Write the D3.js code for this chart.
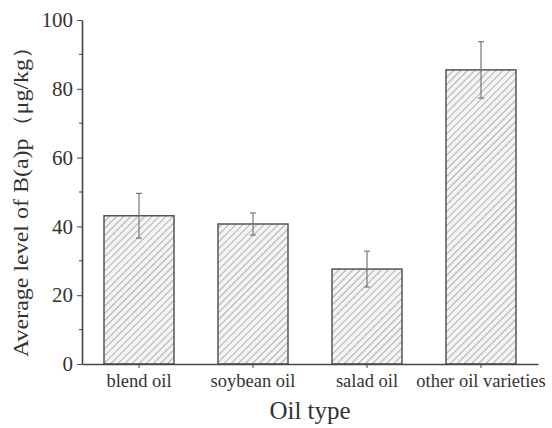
<!DOCTYPE html>
<html>
<head>
<meta charset="utf-8">
<script src="https://cdn.jsdelivr.net/npm/d3@7/dist/d3.min.js"></script>
<style>
  body { margin: 0; background: #fff; }
</style>
</head>
<body>
<svg id="chart" width="552" height="428"></svg>
<script>
// data
var oils = ["blend oil", "soybean oil", "salad oil", "other oil varieties"];
var levels = [43.1, 40.7, 27.6, 85.5];
var errs = [6.5, 3.2, 5.2, 8.2];
var yTicks = [0, 20, 40, 60, 80, 100];
var yMinor = [10, 30, 50, 70, 90];

var serif = "'Liberation Serif', 'Times New Roman', Times, serif";
var svg = d3.select("#chart");
var pLeft = 82, pRight = 538, pTop = 20, pBottom = 364;

var x = d3.scaleBand().domain(oils).range([pLeft, pRight]).paddingInner(0.386).paddingOuter(0.193);
var y = d3.scaleLinear().domain([0, 100]).range([pBottom, pTop]);

// hatch pattern
var defs = svg.append("defs");
var pat = defs.append("pattern")
	.attr("id", "hatch")
	.attr("patternUnits", "userSpaceOnUse")
	.attr("width", 5)
	.attr("height", 5)
	.attr("patternTransform", "rotate(45)");
pat.append("rect").attr("width", 5).attr("height", 5).attr("fill", "#f4f4f4");
pat.append("line")
	.attr("x1", 0).attr("y1", 0).attr("x2", 0).attr("y2", 5)
	.attr("stroke", "#8a8a8a").attr("stroke-width", 1.3);

// bars
svg.selectAll(".bar").data(oils).enter().append("rect")
	.attr("class", "bar")
	.attr("x", function(d){ return x(d); })
	.attr("y", function(d, i){ return y(levels[i]); })
	.attr("width", x.bandwidth())
	.attr("height", function(d, i){ return y(0) - y(levels[i]); })
	.attr("fill", "url(#hatch)")
	.attr("stroke", "#555")
	.attr("stroke-width", 1.5);

// error bars
var eb = svg.selectAll(".err").data(oils).enter().append("g").attr("class", "err")
	.attr("stroke", "#777").attr("stroke-width", 1.2);
eb.append("line")
	.attr("x1", function(d){ return x(d) + x.bandwidth()/2; })
	.attr("x2", function(d){ return x(d) + x.bandwidth()/2; })
	.attr("y1", function(d, i){ return y(levels[i] + errs[i]); })
	.attr("y2", function(d, i){ return y(levels[i] - errs[i]); });
eb.append("line")
	.attr("x1", function(d){ return x(d) + x.bandwidth()/2 - 3; })
	.attr("x2", function(d){ return x(d) + x.bandwidth()/2 + 3; })
	.attr("y1", function(d, i){ return y(levels[i] + errs[i]); })
	.attr("y2", function(d, i){ return y(levels[i] + errs[i]); });
eb.append("line")
	.attr("x1", function(d){ return x(d) + x.bandwidth()/2 - 3; })
	.attr("x2", function(d){ return x(d) + x.bandwidth()/2 + 3; })
	.attr("y1", function(d, i){ return y(levels[i] - errs[i]); })
	.attr("y2", function(d, i){ return y(levels[i] - errs[i]); });

// y axis
var yAxis = d3.axisLeft(y).tickValues(yTicks).tickSize(5).tickPadding(4).tickSizeOuter(0);
var gy = svg.append("g").attr("transform", "translate(" + pLeft + ",0)").call(yAxis);
gy.selectAll(".tick text").style("font-size", "21px");
// minor ticks
gy.selectAll(".minor").data(yMinor).enter().append("line")
	.attr("class", "minor")
	.attr("x1", -3).attr("x2", 0)
	.attr("y1", function(d){ return y(d); })
	.attr("y2", function(d){ return y(d); })
	.attr("stroke", "#444");

// x axis
var xAxis = d3.axisBottom(x).tickSize(4).tickPadding(6).tickSizeOuter(0);
var gx = svg.append("g").attr("transform", "translate(0," + pBottom + ")").call(xAxis);
gx.selectAll(".tick text").style("font-size", "18.5px");

svg.selectAll(".domain").attr("stroke", "#444").attr("stroke-width", 1.6);
svg.selectAll(".tick line").attr("stroke", "#444");

// axis titles
svg.append("text")
	.attr("x", 310)
	.attr("y", 419)
	.attr("text-anchor", "middle")
	.style("font-size", "25px")
	.text("Oil type");

svg.append("text")
	.attr("transform", "translate(28,196) rotate(-90)")
	.attr("text-anchor", "middle")
	.attr("textLength", 322)
	.attr("lengthAdjust", "spacingAndGlyphs")
	.style("font-size", "21px")
	.text("Average level of B(a)p（μg/kg）");

svg.selectAll("text").style("font-family", serif).attr("fill", "#333");
</script>
</body>
</html>
